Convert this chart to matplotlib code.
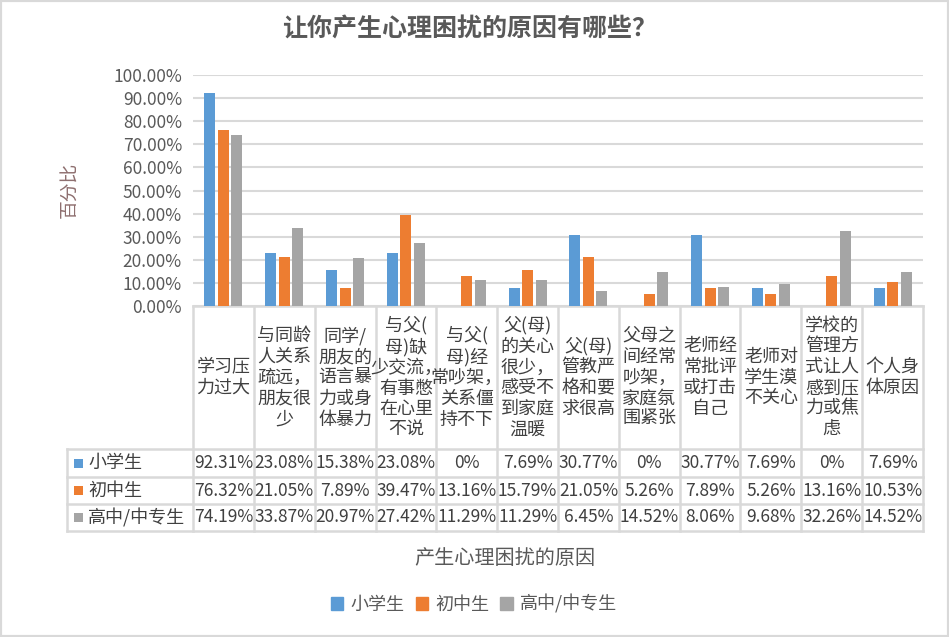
import matplotlib
matplotlib.use("Agg")
import matplotlib.pyplot as plt
from matplotlib.patches import Rectangle
from matplotlib.transforms import blended_transform_factory

plt.rcParams['font.family'] = ['Noto Sans CJK SC', 'DejaVu Sans']

# categories (line breaks as wrapped in the table cells)
categories = ['学习压\n力过大', '与同龄\n人关系\n疏远，\n朋友很\n少', '同学/\n朋友的\n语言暴\n力或身\n体暴力',
              '与父(\n母)缺\n少交流，\n有事憋\n在心里\n不说', '与父(\n母)经\n常吵架，\n关系僵\n持不下',
              '父(母)\n的关心\n很少，\n感受不\n到家庭\n温暖', '父(母)\n管教严\n格和要\n求很高',
              '父母之\n间经常\n吵架，\n家庭氛\n围紧张', '老师经\n常批评\n或打击\n自己', '老师对\n学生漠\n不关心',
              '学校的\n管理方\n式让人\n感到压\n力或焦\n虑', '个人身\n体原因']
series_names = ['小学生', '初中生', '高中/中专生']
primary = [92.31, 23.08, 15.38, 23.08, 0, 7.69, 30.77, 0, 30.77, 7.69, 0, 7.69]
junior = [76.32, 21.05, 7.89, 39.47, 13.16, 15.79, 21.05, 5.26, 7.89, 5.26, 13.16, 10.53]
senior = [74.19, 33.87, 20.97, 27.42, 11.29, 11.29, 6.45, 14.52, 8.06, 9.68, 32.26, 14.52]
colors = ['#5B9BD5', '#ED7D31', '#A5A5A5']
series = [primary, junior, senior]

W, H = 949, 637
fx = lambda px: px / W
fy = lambda py: 1 - py / H

fig = plt.figure(figsize=(W / 100, H / 100), dpi=100)
ax = fig.add_axes([fx(193), fy(306), (923 - 193) / W, (306 - 75) / H])

grid_c = '#D9D9D9'
n = len(categories)
width = 0.18
offsets = [-0.222, 0, 0.222]
for vals, off, c in zip(series, offsets, colors):
    ax.bar([i + off for i in range(n)], [v / 100 for v in vals], width=width, color=c, zorder=3)

ax.set_xlim(-0.5, n - 0.5)
ax.set_ylim(0, 1.0)
ax.set_yticks([i / 10 for i in range(11)])
ax.set_yticklabels([f'{i * 10:.2f}%' for i in range(11)], fontsize=12.5, color='#595959')
ax.tick_params(axis='y', length=0, pad=8)
ax.set_xticks([])
ax.grid(axis='y', color=grid_c, lw=1.5, zorder=0)
for s in ax.spines.values():
    s.set_visible(False)

# data table below the axis
tr = blended_transform_factory(ax.transData, fig.transFigure)
top, label_bot = 306, 449
rows = [449, 477, 504, 531]
line_kw = dict(color=grid_c, lw=1.8, clip_on=False)
for i in range(n + 1):
    ax.plot([i - 0.5, i - 0.5], [fy(top), fy(rows[-1])], transform=tr, **line_kw)
ax.plot([-0.5, n - 0.5], [fy(top), fy(top)], transform=tr, **line_kw)
for r in rows:
    fig.add_artist(plt.Line2D([fx(67), fx(923)], [fy(r), fy(r)], color=grid_c, lw=1.8))
fig.add_artist(plt.Line2D([fx(67), fx(67)], [fy(rows[0]), fy(rows[-1])], color=grid_c, lw=1.8))

for i, cat in enumerate(categories):
    ax.text(i, fy((top + label_bot) / 2), cat, transform=tr, ha='center', va='center',
            fontsize=13, color='#404040', linespacing=1.2)

for k, (name, vals, c) in enumerate(zip(series_names, series, colors)):
    yc = (rows[k] + rows[k + 1]) / 2
    fig.add_artist(Rectangle((fx(74), fy(yc + 4.5)), 9 / W, 9 / H, transform=fig.transFigure,
                             color=c, lw=0))
    fig.text(fx(88), fy(yc), name, ha='left', va='center', fontsize=13, color='#404040')
    for i, v in enumerate(vals):
        txt = '0%' if v == 0 else f'{v:.2f}%'
        ax.text(i, fy(yc), txt, transform=tr, ha='center', va='center', fontsize=12.5, color='#404040')

fig.text(fx(470), fy(30), '让你产生心理困扰的原因有哪些？', ha='center', va='center',
         fontsize=18, fontweight='bold', color='#595959')
fig.text(fx(70), fy(190), '百分比', ha='center', va='center', rotation=90, fontsize=13.5, color='#8E6F6F')
fig.text(fx(505), fy(558), '产生心理困扰的原因', ha='center', va='center', fontsize=14.5, color='#595959')

handles = [Rectangle((0, 0), 1, 1, color=c) for c in colors]
fig.legend(handles, series_names, loc='center', bbox_to_anchor=(fx(474), fy(604)), ncol=3,
           frameon=False, handlelength=0.7, handleheight=0.7, handletextpad=0.4,
           columnspacing=0.6, prop={'size': 13}, labelcolor='#595959')

fig.add_artist(Rectangle((0, 0), 1, 1, transform=fig.transFigure, fill=False,
                         edgecolor=grid_c, lw=3))

fig.savefig('out.png', dpi=100, facecolor='white')
